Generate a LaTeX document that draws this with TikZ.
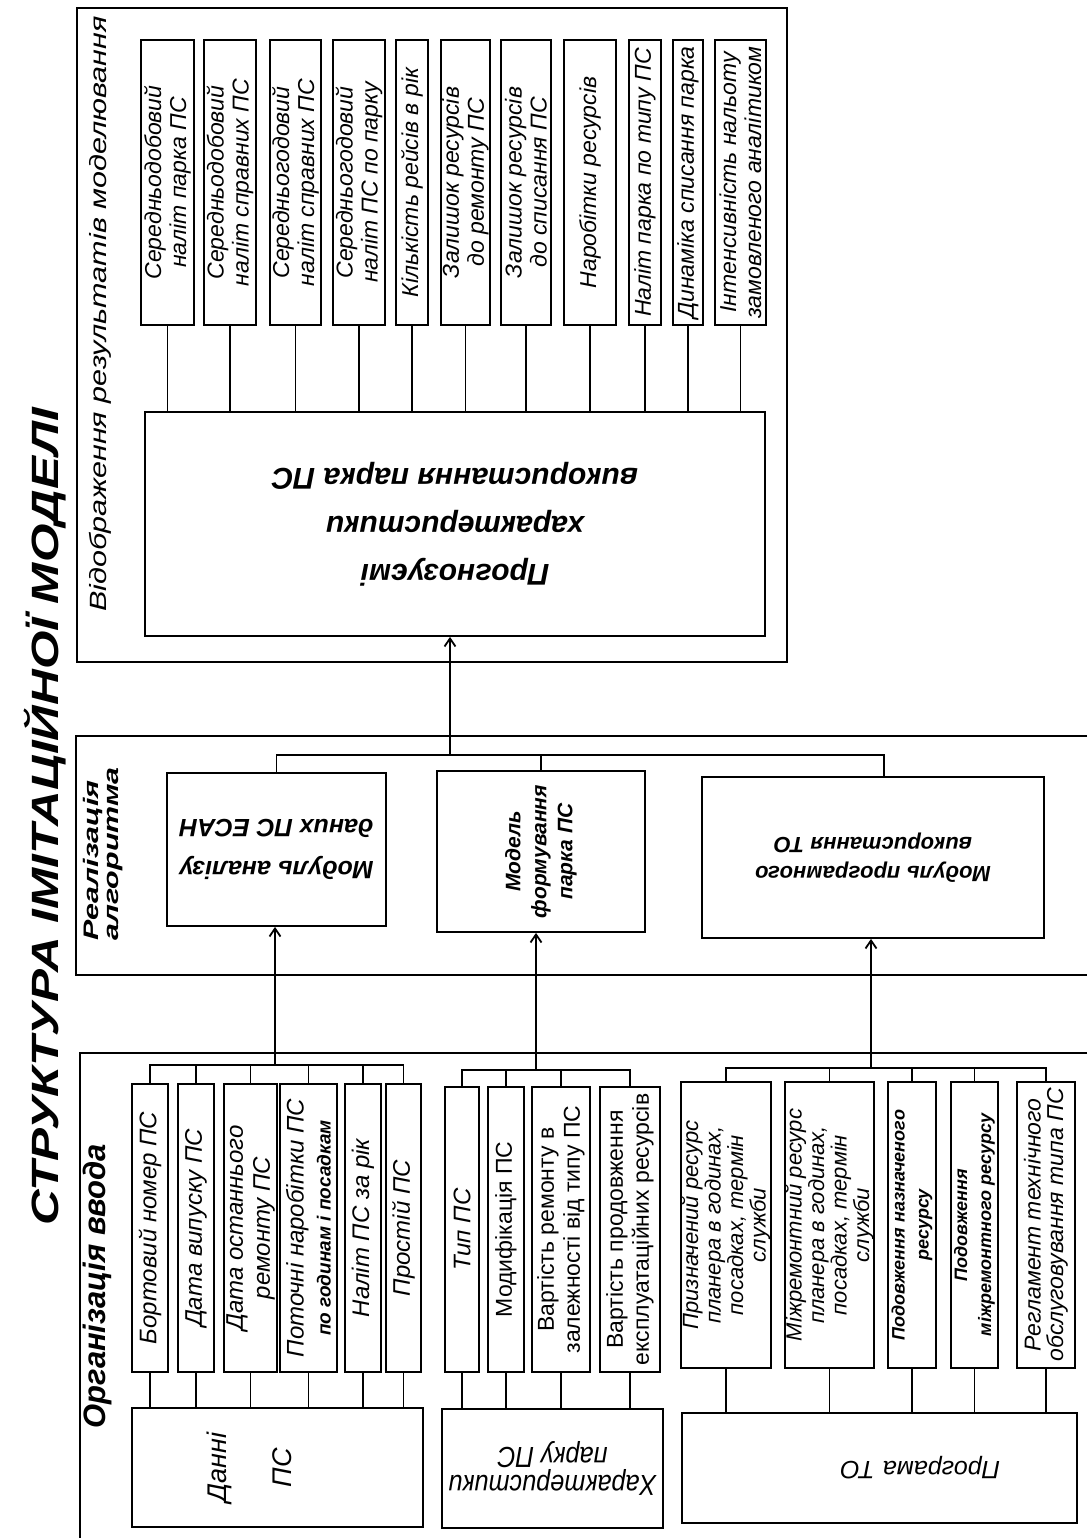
\documentclass[tikz,border=0pt]{standalone}
\usepackage{fontspec}
\setmainfont{Liberation Sans}
\newfontfamily\widefont[FakeStretch=1.45]{Liberation Sans}
\newfontfamily\titlefont[FakeStretch=1.3]{Liberation Sans}
\newfontfamily\narrowfont[FakeStretch=0.87]{Liberation Sans}
\usetikzlibrary{arrows.meta}
\begin{document}
\begin{tikzpicture}[
    x=1pt, y=-1pt,
    line width=1.8pt,
    >={Straight Barb[length=8pt,width=11pt]},
    every node/.style={inner sep=0pt, align=center},
    group frame/.style={draw, line width=1.8pt},
    box/.style={draw},
    vert box/.style={box, rotate=90}, % texto de baixo para cima
    flip box/.style={box, rotate=180}, % texto de cabeca para baixo
    result/.style={vert box, minimum width=285pt, font=\fontsize{23}{25}\selectfont\itshape},
    input/.style={vert box, font=\fontsize{24}{27}\selectfont\itshape},
    upright/.style={font=\fontsize{23}{26}\selectfont},
    service/.style={vert box, minimum width=286pt, font=\fontsize{22}{22.5}\selectfont\itshape}
    ]
    \useasboundingbox (0,0) rectangle (1087,1538);
    \node[rotate=90, font=\titlefont\fontsize{38}{40}\selectfont\bfseries\itshape] (title) at (45,817) {СТРУКТУРА ІМІТАЦІЙНОЇ МОДЕЛІ};

    % resultados
    \draw[group frame] (77,8) rectangle (787,662);
    \node[rotate=90, font=\titlefont\fontsize{23.5}{26}\selectfont\itshape] (outLabel) at (100,314) {Відображення результатів моделювання};
    \node[result, minimum height=53pt] (r1) at (167.5,182.5) {Середньодобовий\\наліт парка ПС};
    \node[result, minimum height=52pt] (r2) at (230,182.5) {Середньодобовий\\наліт справних ПС};
    \node[result, minimum height=51pt] (r3) at (295.5,182.5) {Середньогодовий\\наліт справних ПС};
    \node[result, minimum height=52pt] (r4) at (359,182.5) {Середньогодовий\\наліт ПС по парку};
    \node[result, minimum height=32pt] (r5) at (412,182.5) {Кількість рейсів в рік};
    \node[result, minimum height=49pt] (r6) at (465.5,182.5) {Залишок ресурсів\\до ремонту ПС};
    \node[result, minimum height=50pt] (r7) at (526,182.5) {Залишок ресурсів\\до списання ПС};
    \node[result, minimum height=52pt] (r8) at (590,182.5) {Наробітки ресурсів};
    \node[result, minimum height=32pt] (r9) at (645,182.5) {Наліт парка по типу ПС};
    \node[result, minimum height=30pt] (r10) at (688,182.5) {Динаміка списання парка};
    \node[result, minimum height=51pt] (r11) at (740.5,182.5) {Інтенсивність нальоту\\замовленого аналітиком};
    \node[flip box, minimum width=620pt, minimum height=224pt, font=\fontsize{30}{48}\selectfont\bfseries\itshape] (prog) at (455,524) {Прогнозуємі\\характеристики\\використання парка ПС};
    \draw (r1.west) -- (r1.west |- prog.south) (r2.west) -- (r2.west |- prog.south)
          (r3.west) -- (r3.west |- prog.south) (r4.west) -- (r4.west |- prog.south)
          (r5.west) -- (r5.west |- prog.south) (r6.west) -- (r6.west |- prog.south)
          (r7.west) -- (r7.west |- prog.south) (r8.west) -- (r8.west |- prog.south)
          (r9.west) -- (r9.west |- prog.south) (r10.west) -- (r10.west |- prog.south)
          (r11.west) -- (r11.west |- prog.south);

    % algoritmo
    \draw[group frame] (1087,736) -| (76,975) -- (1087,975);
    \node[rotate=90, align=left, font=\widefont\fontsize{21}{20}\selectfont\bfseries\itshape] (algLabel) at (103.5,854) {Реалізація\\алгоритма};
    \node[flip box, minimum width=219pt, minimum height=153pt, font=\fontsize{25}{42}\selectfont\bfseries\itshape] (m1) at (276.5,849.5) {Модуль аналізу\\даних ПС ЕСАН};
    \node[vert box, minimum width=161pt, minimum height=208pt, font=\fontsize{21}{26}\selectfont\bfseries\itshape] (m2) at (541,851.5) {Модель\\формування\\парка ПС};
    \node[flip box, minimum width=342pt, minimum height=161pt, font=\fontsize{22}{29}\selectfont\bfseries\itshape] (m3) at (873,857.5) {Модуль програмного\\використання ТО};
    \coordinate (busR) at (450,755);
    \draw (m1.south) -- (m1.south |- busR) -- ([xshift=11pt]m3.south |- busR) -- ([xshift=11pt]m3.south)
          (m2.east) -- (m2.east |- busR);
    \draw[->] (busR) -- (busR |- prog.north);

    % entrada
    \draw[group frame] (1087,1053) -| (80,1538);
    \node[rotate=90, font=\fontsize{31}{34}\selectfont\bfseries\itshape] (inLabel) at (97,1286) {Організація ввода};
    \coordinate (busA) at (275,1065);
    \coordinate (busB) at (536,1070);
    \coordinate (busC) at (871,1068);
    \draw[->] (busA) -- (busA |- m1.north);
    \draw[->] (busB) -- (busB |- m2.west);
    \draw[->] (busC) -- (busC |- m3.north);

    \node[input, minimum width=288pt, minimum height=36pt] (b1) at (150,1228) {Бортовий номер ПС};
    \node[input, minimum width=288pt, minimum height=36pt] (b2) at (196,1228) {Дата випуску ПС};
    \node[input, minimum width=288pt, minimum height=53pt] (b3) at (250.5,1228) {Дата останнього\\ремонту ПС};
    \node[input, minimum width=288pt, minimum height=57pt] (b4) at (308.5,1228) {Поточні наробітки ПС\\{\fontsize{19}{27}\selectfont\bfseries по годинам і посадкам}};
    \node[input, minimum width=288pt, minimum height=36pt] (b5) at (363,1228) {Наліт ПС за рік};
    \node[input, minimum width=288pt, minimum height=35pt] (b6) at (403.5,1228) {Простій ПС};
    \node[vert box, minimum width=119pt, minimum height=291pt, font=\fontsize{27}{65}\selectfont\itshape] (dani) at (277.5,1467.5) {Данні\\ПС\\[-9pt]\mbox{}};
    \draw (b1.east) |- (b6.east |- busA) -- (b6.east)
          (b2.east) -- (b2.east |- busA) (b3.east) -- (b3.east |- busA)
          (b4.east) -- (b4.east |- busA) (b5.east) -- (b5.east |- busA);
    \draw (b1.west) -- (b1.west |- dani.east) (b2.west) -- (b2.west |- dani.east)
          (b3.west) -- (b3.west |- dani.east) (b4.west) -- (b4.west |- dani.east)
          (b5.west) -- (b5.west |- dani.east) (b6.west) -- (b6.west |- dani.east);

    \node[input, minimum width=285pt, minimum height=34pt] (c1) at (462,1229.5) {Тип ПС};
    \node[input, upright, minimum width=285pt, minimum height=35.5pt] (c2) at (506,1229.5) {Модифікація ПС};
    \node[input, upright, minimum width=285pt, minimum height=58pt] (c3) at (561,1229.5) {Вартість ремонту в\\залежності від типу ПС};
    \node[input, upright, minimum width=285pt, minimum height=60.5pt] (c4) at (630,1229.5) {Вартість продовження\\експлуатаційних ресурсів};
    \node[flip box, minimum width=221pt, minimum height=119pt, font=\narrowfont\fontsize{29}{28}\selectfont\itshape] (ch) at (552.5,1468.5) {Характеристики\\парку ПС};
    \draw (c1.east) |- (c4.east |- busB) -- (c4.east)
          (c2.east) -- (c2.east |- busB) (c3.east) -- (c3.east |- busB);
    \draw (c1.west) -- (c1.west |- ch.south) (c2.west) -- (c2.west |- ch.south)
          (c3.west) -- (c3.west |- ch.south) (c4.west) -- (c4.west |- ch.south);

    \node[service, minimum height=90pt] (d1) at (726,1225) {Призначений ресурс\\планера в годинах,\\посадках, термін\\служби};
    \node[service, minimum height=89pt] (d2) at (829.5,1225) {Міжремонтний ресурс\\планера в годинах,\\посадках, термін\\служби};
    \node[service, minimum height=48pt, font=\fontsize{18}{24}\selectfont\bfseries\itshape] (d3) at (912,1225) {Подовження назначеного\\ресурсу};
    \node[service, minimum height=47pt, font=\fontsize{18}{24}\selectfont\bfseries\itshape] (d4) at (974.5,1225) {Подовження\\міжремонтного ресурсу};
    \node[service, minimum height=58pt, font=\fontsize{23}{22.5}\selectfont\itshape] (d5) at (1046,1225) {Регламент технічного\\обслуговування типа ПС};
    \node[flip box, minimum width=395pt, minimum height=110pt, text width=241pt, align=left, font=\fontsize{25}{28}\selectfont\itshape] (prto) at (879.5,1468) {Програма ТО};
    \draw (d1.east) |- (d5.east |- busC) -- (d5.east)
          (d2.east) -- (d2.east |- busC) (d3.east) -- (d3.east |- busC) (d4.east) -- (d4.east |- busC);
    \draw (d1.west) -- (d1.west |- prto.south) (d2.west) -- (d2.west |- prto.south)
          (d3.west) -- (d3.west |- prto.south) (d4.west) -- (d4.west |- prto.south)
          (d5.west) -- (d5.west |- prto.south);
\end{tikzpicture}
\end{document}
